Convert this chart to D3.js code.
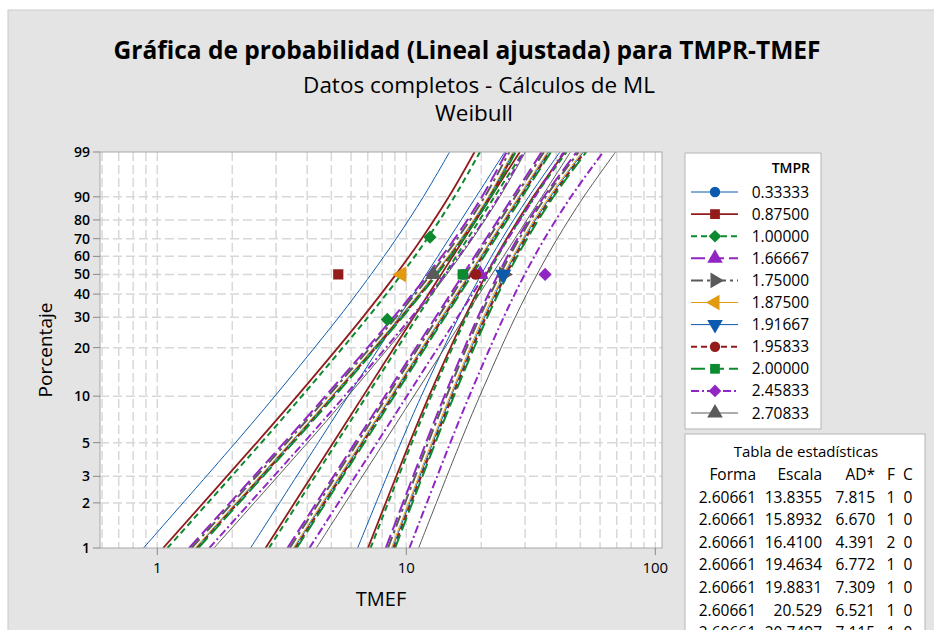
<!DOCTYPE html>
<html>
<head>
<meta charset="utf-8">
<script src="https://cdn.jsdelivr.net/npm/d3@7"></script>
<style>
  body { margin: 0; background: #fff; }
  svg { display: block; font-family: "Open Sans", sans-serif; }
</style>
</head>
<body>
<div id="chart"></div>
<script>
// groups (TMPR levels) and their fitted Weibull parameters
const tmpr = ["0.33333", "0.87500", "1.00000", "1.66667", "1.75000", "1.87500",
              "1.91667", "1.95833", "2.00000", "2.45833", "2.70833"]
const forma = [2.60661, 2.60661, 2.60661, 2.60661, 2.60661, 2.60661,
               2.60661, 2.60661, 2.60661, 2.60661, 2.60661]
const escala = [13.8355, 15.8932, 16.4100, 19.4634, 19.8831, 20.529,
                20.7497, 20.97, 21.20, 23.84, 25.41]

// table rows visible in the picture
const formaTxt = ["2.60661", "2.60661", "2.60661", "2.60661", "2.60661", "2.60661", "2.60661"]
const escalaTxt = ["13.8355", "15.8932", "16.4100", "19.4634", "19.8831", "20.529", "20.7497"]
const adTxt = ["7.815", "6.670", "4.391", "6.772", "7.309", "6.521", "7.115"]
const fTxt = ["1", "1", "2", "1", "1", "1", "1"]
const cTxt = ["0", "0", "0", "0", "0", "0", "0"]

// observed failures (TMEF) and their plotting percent
const pointTimes = [[16.9], [5.33], [8.39, 12.45], [19.8], [24.6], [9.58],
                    [24.5], [19.0], [16.85], [36.1], [12.84]]
const pointPcts = [[50], [50], [29.17, 70.83], [50], [50], [50],
                   [50], [50], [50], [50], [50]]

// confidence band half width (log units) at these percents, per group
const ciKnots = [1, 5, 10, 30, 50, 70, 90, 99]
const ciHalf = [
  [0.990, 0.765, 0.677, 0.554, 0.510, 0.489, 0.487, 0.510],
  [0.947, 0.707, 0.610, 0.471, 0.418, 0.393, 0.390, 0.418],
  [0.939, 0.696, 0.598, 0.455, 0.400, 0.373, 0.370, 0.400],
  [0.909, 0.656, 0.550, 0.390, 0.324, 0.290, 0.286, 0.324],
  [0.908, 0.654, 0.548, 0.387, 0.321, 0.287, 0.282, 0.321],
  [0.908, 0.654, 0.548, 0.387, 0.321, 0.287, 0.282, 0.321],
  [0.908, 0.655, 0.549, 0.389, 0.322, 0.288, 0.284, 0.322],
  [0.909, 0.656, 0.550, 0.390, 0.324, 0.290, 0.286, 0.324],
  [0.910, 0.657, 0.552, 0.393, 0.327, 0.294, 0.289, 0.327],
  [0.925, 0.678, 0.577, 0.427, 0.367, 0.338, 0.334, 0.367],
  [0.946, 0.706, 0.610, 0.470, 0.417, 0.392, 0.388, 0.417]
]

const yTicks = [1, 2, 3, 5, 10, 20, 30, 40, 50, 60, 70, 80, 90, 99]
const xTicks = [1, 10, 100]
const xGrid = [0.6, 0.7, 0.8, 0.9, 1, 2, 3, 4, 5, 6, 7, 8, 9, 10,
               20, 30, 40, 50, 60, 70, 80, 90, 100]

// styles
const BLUE = "#0b5ab0", RED = "#941b1b", GREEN = "#0d8a2f",
      PURPLE = "#9126c4", GRAY = "#5a5a5a", ORANGE = "#e29a10"
const colors = [BLUE, RED, GREEN, PURPLE, GRAY, ORANGE, BLUE, RED, GREEN, PURPLE, GRAY]
const shapes = ["circle", "square", "diamond", "up", "right", "left", "down", "circle", "square", "diamond", "up"]
const dashes = [null, null, "6,4", "14,5", "12,4,3,4", null, null, "6,4", "14,5", "8,3,2,3", null]
const widths = [1, 1.8, 2, 2, 2, 1, 1, 2, 2, 2, 1]

const W = 934, H = 630
const PLOT = {LEFT: 100, TOP: 152, RIGHT: 662, BOTTOM: 548}
const TEXT = "#000"

const svg = d3.select("#chart").append("svg")
  .attr("width", W)
  .attr("height", H)

// grey panel
svg.append("rect")
  .attr("x", 8).attr("y", 10)
  .attr("width", W).attr("height", H)
  .attr("fill", "#e4e4e4")
  .attr("stroke", "#c9c9c9")

// scales
const x = d3.scaleLog().domain([1, 100]).range([157.3, 655.3])
const wOf = p => Math.log(-Math.log(1 - p / 100))
const yLin = d3.scaleLinear().domain([wOf(1), wOf(99)]).range([PLOT.BOTTOM, PLOT.TOP])
const y = p => yLin(wOf(p))

// plot area
svg.append("rect")
  .attr("x", PLOT.LEFT).attr("y", PLOT.TOP)
  .attr("width", PLOT.RIGHT - PLOT.LEFT).attr("height", PLOT.BOTTOM - PLOT.TOP)
  .attr("fill", "#fff")

svg.append("clipPath").attr("id", "clip")
  .append("rect")
  .attr("x", PLOT.LEFT).attr("y", PLOT.TOP)
  .attr("width", PLOT.RIGHT - PLOT.LEFT).attr("height", PLOT.BOTTOM - PLOT.TOP)

// grid
const grid = svg.append("g")
  .attr("stroke", "#d8d8d8")
  .attr("stroke-width", 1.5)
  .attr("stroke-dasharray", "9,4")
grid.selectAll(".gx").data(xGrid).enter().append("line")
  .attr("x1", d => x(d)).attr("x2", d => x(d))
  .attr("y1", PLOT.TOP).attr("y2", PLOT.BOTTOM)
grid.selectAll(".gy").data(yTicks.filter(d => d > 1 && d < 99)).enter().append("line")
  .attr("x1", PLOT.LEFT).attr("x2", PLOT.RIGHT)
  .attr("y1", d => y(d)).attr("y2", d => y(d))

// fitted lines and confidence bounds
const line = d3.line().curve(d3.curveCatmullRom)
const tFit = (g, p) => escala[g] * Math.pow(-Math.log(1 - p / 100), 1 / forma[g])

const gLines = svg.append("g").attr("clip-path", "url(#clip)")
tmpr.forEach((name, g) => {
  [-1, 0, 1].forEach(k => {
    const pts = ciKnots.map((p, i) => [x(tFit(g, p) * Math.exp(k * ciHalf[g][i])), y(p)])
    gLines.append("path")
      .attr("d", line(pts))
      .attr("fill", "none")
      .attr("stroke", colors[g])
      .attr("stroke-width", widths[g])
      .attr("stroke-dasharray", dashes[g])
  })
})

// markers
function marker(sel, shape, color, s) {
  let type = d3.symbolTriangle, rot = 0, size = s
  if (shape === "circle") { type = d3.symbolCircle; size = s * 0.85 }
  if (shape === "square") { type = d3.symbolSquare; size = s * 0.95 }
  if (shape === "diamond") { type = d3.symbolSquare; rot = 45; size = s * 0.8 }
  if (shape === "right") rot = 90
  if (shape === "down") rot = 180
  if (shape === "left") rot = -90
  if (type === d3.symbolTriangle) size = s * 1.05
  sel.append("path")
    .attr("d", d3.symbol().type(type).size(size)())
    .attr("transform", `rotate(${rot})`)
    .attr("fill", color)
}

const gPts = svg.append("g").attr("clip-path", "url(#clip)")
tmpr.forEach((name, g) => {
  pointTimes[g].forEach((t, i) => {
    const m = gPts.append("g")
      .attr("transform", `translate(${x(t)}, ${y(pointPcts[g][i])})`)
    marker(m, shapes[g], colors[g], 110)
  })
})

// frame
svg.append("rect")
  .attr("x", PLOT.LEFT).attr("y", PLOT.TOP)
  .attr("width", PLOT.RIGHT - PLOT.LEFT).attr("height", PLOT.BOTTOM - PLOT.TOP)
  .attr("fill", "none")
  .attr("stroke", "#a8a8a8")

// y axis
const yAxis = svg.append("g")
yAxis.selectAll("line").data(yTicks).enter().append("line")
  .attr("x1", PLOT.LEFT - 7).attr("x2", PLOT.LEFT)
  .attr("y1", d => y(d)).attr("y2", d => y(d))
  .attr("stroke", "#888")
yAxis.selectAll("text").data(yTicks).enter().append("text")
  .attr("x", PLOT.LEFT - 10)
  .attr("y", d => y(d) + 5)
  .attr("text-anchor", "end")
  .attr("font-size", "14px")
  .attr("font-weight", 600)
  .attr("fill", TEXT)
  .text(d => d)

// x axis
const xAxis = svg.append("g")
xAxis.selectAll("line").data(xTicks).enter().append("line")
  .attr("x1", d => x(d)).attr("x2", d => x(d))
  .attr("y1", PLOT.BOTTOM).attr("y2", PLOT.BOTTOM + 7)
  .attr("stroke", "#888")
xAxis.selectAll("text").data(xTicks).enter().append("text")
  .attr("x", d => x(d))
  .attr("y", PLOT.BOTTOM + 25)
  .attr("text-anchor", "middle")
  .attr("font-size", "15px")
  .attr("fill", TEXT)
  .text(d => d)

// axis labels
svg.append("text")
  .attr("x", (PLOT.LEFT + PLOT.RIGHT) / 2)
  .attr("y", 606)
  .attr("text-anchor", "middle")
  .attr("font-size", "20px")
  .attr("fill", TEXT)
  .text("TMEF")

svg.append("text")
  .attr("transform", `translate(52, ${(PLOT.TOP + PLOT.BOTTOM) / 2}) rotate(-90)`)
  .attr("text-anchor", "middle")
  .attr("font-size", "19px")
  .attr("fill", TEXT)
  .text("Porcentaje")

// titles, sized to the widths in the picture
function fit(sel, target) {
  const w = sel.node().getComputedTextLength()
  const fs = parseFloat(sel.attr("font-size"))
  sel.attr("font-size", (fs * target / w).toFixed(2) + "px")
}
const t1 = svg.append("text")
  .attr("x", 467).attr("y", 59)
  .attr("text-anchor", "middle")
  .attr("font-size", "22px").attr("font-weight", 700)
  .attr("fill", TEXT)
  .text("Gráfica de probabilidad (Lineal ajustada) para TMPR-TMEF")
fit(t1, 707)
const t2 = svg.append("text")
  .attr("x", 479).attr("y", 93)
  .attr("text-anchor", "middle")
  .attr("font-size", "18px")
  .attr("fill", TEXT)
  .text("Datos completos - Cálculos de ML")
fit(t2, 352)
const t3 = svg.append("text")
  .attr("x", 474).attr("y", 121)
  .attr("text-anchor", "middle")
  .attr("font-size", "18px")
  .attr("fill", TEXT)
  .text("Weibull")
fit(t3, 78)

// legend
const leg = svg.append("g")
leg.append("rect")
  .attr("x", 685).attr("y", 153)
  .attr("width", 136).attr("height", 276)
  .attr("fill", "#fff").attr("stroke", "#b5b5b5")
leg.append("text")
  .attr("x", 810).attr("y", 173)
  .attr("text-anchor", "end")
  .attr("font-size", "14px").attr("font-weight", 600)
  .attr("fill", TEXT)
  .text("TMPR")
tmpr.forEach((name, g) => {
  const ly = 192 + g * 22.1
  leg.append("line")
    .attr("x1", 691).attr("x2", 738)
    .attr("y1", ly).attr("y2", ly)
    .attr("stroke", colors[g])
    .attr("stroke-width", widths[g])
    .attr("stroke-dasharray", dashes[g])
  const m = leg.append("g").attr("transform", `translate(715, ${ly})`)
  marker(m, shapes[g], colors[g], 100)
  leg.append("text")
    .attr("x", 809).attr("y", ly + 5.5)
    .attr("text-anchor", "end")
    .attr("font-size", "15.5px")
    .attr("fill", TEXT)
    .text(name)
})

// statistics table
const tab = svg.append("g")
tab.append("rect")
  .attr("x", 685).attr("y", 434)
  .attr("width", 240).attr("height", 220)
  .attr("fill", "#fff").attr("stroke", "#b5b5b5")
tab.append("text")
  .attr("x", 806).attr("y", 457)
  .attr("text-anchor", "middle")
  .attr("font-size", "15px")
  .attr("fill", TEXT)
  .text("Tabla de estadísticas")

const cols = [
  {head: "Forma", vals: formaTxt, x: 756, anchor: "end"},
  {head: "Escala", vals: escalaTxt, x: 822, anchor: "end"},
  {head: "AD*", vals: adTxt, x: 875, anchor: "end"},
  {head: "F", vals: fTxt, x: 891, anchor: "middle"},
  {head: "C", vals: cTxt, x: 908, anchor: "middle"}
]
cols.forEach(c => {
  tab.append("text")
    .attr("x", c.x).attr("y", 480)
    .attr("text-anchor", c.anchor)
    .attr("font-size", "15.5px")
    .attr("fill", TEXT)
    .text(c.head)
  c.vals.forEach((v, i) => {
    tab.append("text")
      .attr("x", c.x).attr("y", 502.5 + i * 22.6)
      .attr("text-anchor", c.anchor)
      .attr("font-size", "15.5px")
      .attr("fill", TEXT)
      .text(v)
  })
})
</script>
</body>
</html>
